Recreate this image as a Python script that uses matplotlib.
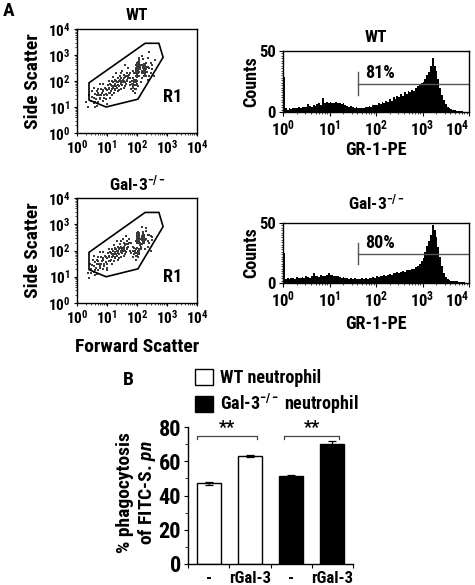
import matplotlib
matplotlib.use('Agg')
import matplotlib.pyplot as plt
import numpy as np
from matplotlib import font_manager as fm
from matplotlib.ticker import FixedLocator, NullFormatter, LogLocator, MultipleLocator, FuncFormatter


def pick(fams):
    for f in fams:
        try:
            fm.findfont(fm.FontProperties(family=f, weight='bold'), fallback_to_default=False)
            return f
        except Exception:
            pass
    return 'DejaVu Sans'


FONT = pick(['Liberation Sans Narrow', 'Arial Narrow', 'Roboto Condensed', 'Archivo Narrow', 'PT Sans Narrow',
             'Pragati Narrow', 'Arimo', 'Liberation Sans'])
plt.rcParams['font.family'] = [FONT, 'DejaVu Sans']
plt.rcParams['font.weight'] = 'bold'
plt.rcParams['mathtext.fontset'] = 'custom'
plt.rcParams['mathtext.rm'] = FONT + ':bold'
plt.rcParams['mathtext.bf'] = FONT + ':bold'
plt.rcParams['mathtext.it'] = FONT + ':bold:italic'
plt.rcParams['mathtext.default'] = 'rm'

# ---------------- data ----------------
# gate R1 (log10 units)
gate_fsc_log = [0.40, 0.40, 0.97, 2.03, 2.87, 2.73, 2.27]
gate_ssc_log = [1.93, 1.27, 1.00, 1.30, 2.91, 3.45, 3.45]

# WT events (log10 FSC, log10 SSC)
wt_events = [
    (0.45, 1.25), (0.5, 1.4), (0.55, 1.15), (0.6, 1.5), (0.62, 1.3), (0.68, 1.6), (0.7, 1.2), (0.72, 1.45), (0.78, 1.35),
    (0.8, 1.7), (0.82, 1.55), (0.85, 1.25), (0.88, 1.6), (0.9, 1.45), (0.93, 1.75), (0.95, 1.5), (0.98, 1.3), (1.0, 1.65),
    (1.02, 1.85), (1.05, 1.55), (0.5, 1.6), (0.58, 1.75), (0.65, 1.05), (0.75, 1.9), (0.4, 1.45),
    (1.08, 1.7), (1.1, 1.9), (1.12, 1.6), (1.15, 1.8), (1.18, 2.0), (1.2, 1.75), (1.22, 1.55), (1.25, 1.9), (1.28, 2.05),
    (1.3, 1.8), (1.32, 1.95), (1.35, 2.1), (1.38, 1.85), (1.4, 2.0), (1.42, 2.2), (1.45, 1.95), (1.48, 2.1), (1.5, 1.85),
    (1.52, 2.05), (1.55, 2.25), (1.58, 2.0), (1.6, 2.15), (1.62, 1.9), (1.65, 2.3), (1.68, 2.05), (1.7, 2.2), (1.15, 1.45),
    (1.25, 1.65), (1.35, 1.6), (1.45, 1.7), (1.55, 1.75), (1.3, 2.3), (1.5, 2.4), (1.2, 2.15), (1.1, 1.35),
    (1.75, 1.85), (1.8, 1.7), (1.82, 2.0), (1.85, 1.9), (1.88, 1.75), (1.9, 2.05), (1.92, 1.85), (1.95, 1.95), (1.98, 1.7),
    (2.0, 2.0), (1.85, 1.6), (1.93, 1.55), (1.78, 2.1), (2.02, 1.8),
    (1.95, 2.3), (1.97, 2.45), (1.98, 2.6), (2.0, 2.35), (2.0, 2.5), (2.01, 2.7), (2.02, 2.4), (2.03, 2.55), (2.04, 2.3),
    (2.05, 2.65), (2.05, 2.45), (2.06, 2.8), (2.07, 2.5), (2.08, 2.35), (2.09, 2.6), (2.1, 2.45), (1.96, 2.2), (2.0, 2.25),
    (2.03, 2.75), (2.07, 2.9), (1.99, 2.15), (2.06, 2.2), (2.02, 2.62), (2.04, 2.48), (2.08, 2.72),
    (2.18, 2.4), (2.2, 2.55), (2.2, 2.3), (2.22, 2.45), (2.23, 2.65), (2.24, 2.35), (2.25, 2.5), (2.26, 2.6), (2.27, 2.4),
    (2.28, 2.3), (2.29, 2.55), (2.3, 2.45), (2.31, 2.7), (2.32, 2.35), (2.22, 2.2), (2.26, 2.25), (2.24, 2.58), (2.28, 2.5),
    (2.21, 2.62), (2.3, 2.2),
    (2.15, 2.1), (2.4, 2.5), (2.45, 2.3), (2.5, 2.6), (2.35, 2.9), (2.4, 3.1), (2.15, 2.95), (1.85, 2.4), (1.7, 2.5),
    (2.55, 2.2), (2.6, 2.8), (2.12, 1.95), (2.35, 2.05), (1.6, 2.6), (2.2, 2.85), (0.3, 1.2), (0.35, 1.0), (1.0, 1.1),
    (0.55, 1.35), (0.6, 1.2), (0.65, 1.45), (0.7, 1.55), (0.75, 1.3), (0.8, 1.45), (0.85, 1.65), (0.9, 1.35), (0.95, 1.7),
    (1.0, 1.45), (1.05, 1.75), (1.1, 1.55), (1.12, 1.85), (1.17, 1.7), (1.2, 1.95), (1.23, 1.8), (1.27, 1.7), (1.3, 2.0),
    (1.33, 1.75), (1.36, 1.95), (1.4, 1.8), (1.43, 2.05), (1.46, 1.9), (1.5, 2.0), (1.53, 1.95), (1.57, 2.1), (1.6, 1.95),
    (1.63, 2.2), (1.66, 2.0), (1.7, 2.1), (1.73, 2.25), (1.76, 1.95), (1.4, 1.65), (1.6, 1.8), (1.25, 2.0), (1.45, 2.3),
    (0.7, 1.7), (0.6, 1.0), (0.88, 1.9), (1.05, 2.0),
    (1.98, 2.4), (2.0, 2.55), (2.01, 2.45), (2.02, 2.35), (2.03, 2.65), (2.04, 2.4), (2.05, 2.55), (2.06, 2.35),
    (2.07, 2.62), (2.08, 2.45), (2.09, 2.52), (2.0, 2.68), (2.05, 2.75), (1.98, 2.5), (2.02, 2.3), (2.06, 2.58),
    (2.2, 2.5), (2.21, 2.38), (2.22, 2.55), (2.23, 2.42), (2.24, 2.48), (2.25, 2.38), (2.26, 2.52), (2.27, 2.62),
    (2.28, 2.42), (2.29, 2.48), (2.23, 2.3), (2.27, 2.33), (2.25, 2.65), (2.21, 2.5),
    (1.85, 1.8), (1.9, 1.95), (1.95, 1.85), (1.88, 2.1), (1.92, 1.7), (1.97, 2.05), (2.0, 1.9), (1.82, 1.9),
    (2.45, 2.7), (2.5, 2.45), (2.35, 2.55), (2.4, 2.2), (1.75, 2.3), (1.9, 2.3), (2.15, 2.3), (2.12, 2.6),
]

# Gal-3-/- events (log10 FSC, log10 SSC)
ko_events = [
    (0.45, 1.3), (0.5, 1.45), (0.55, 1.2), (0.6, 1.55), (0.63, 1.35), (0.67, 1.65), (0.7, 1.25), (0.74, 1.5), (0.78, 1.4),
    (0.8, 1.75), (0.83, 1.6), (0.86, 1.3), (0.88, 1.65), (0.91, 1.5), (0.94, 1.8), (0.96, 1.55), (0.99, 1.35), (1.0, 1.7),
    (1.03, 1.9), (1.06, 1.6), (0.52, 1.65), (0.57, 1.8), (0.66, 1.1), (0.76, 1.95), (0.42, 1.5), (0.48, 1.15),
    (1.08, 1.75), (1.1, 1.95), (1.13, 1.65), (1.15, 1.85), (1.18, 2.05), (1.2, 1.8), (1.23, 1.6), (1.25, 1.95), (1.28, 2.1),
    (1.3, 1.85), (1.33, 2.0), (1.35, 2.15), (1.38, 1.9), (1.4, 2.05), (1.43, 2.25), (1.45, 2.0), (1.48, 2.15), (1.5, 1.9),
    (1.53, 2.1), (1.55, 2.3), (1.58, 2.05), (1.6, 2.2), (1.63, 1.95), (1.65, 2.35), (1.68, 2.1), (1.7, 2.25), (1.16, 1.5),
    (1.26, 1.7), (1.36, 1.65), (1.46, 1.75), (1.56, 1.8), (1.32, 2.35), (1.52, 2.45), (1.22, 2.2),
    (1.8, 1.9), (1.85, 1.75), (1.88, 2.0), (1.9, 1.85), (1.92, 1.95), (1.95, 1.8), (1.97, 2.05), (2.0, 1.9), (2.02, 1.75),
    (2.05, 2.0), (1.9, 2.1), (1.96, 1.65), (2.08, 1.85), (2.0, 2.1), (1.86, 2.15),
    (1.97, 2.35), (1.99, 2.5), (2.0, 2.6), (2.01, 2.4), (2.02, 2.55), (2.03, 2.45), (2.04, 2.65), (2.05, 2.35), (2.05, 2.5),
    (2.06, 2.6), (2.07, 2.4), (2.08, 2.55), (2.09, 2.45), (2.1, 2.3), (2.0, 2.3), (2.02, 2.62), (2.04, 2.38), (2.06, 2.52),
    (2.08, 2.68), (2.03, 2.58), (2.01, 2.42), (2.05, 2.28), (2.07, 2.62), (2.03, 2.48), (1.99, 2.55),
    (2.17, 2.4), (2.18, 2.55), (2.19, 2.3), (2.2, 2.5), (2.21, 2.65), (2.22, 2.35), (2.23, 2.45), (2.24, 2.6), (2.18, 2.25),
    (2.2, 2.42), (2.22, 2.58), (2.24, 2.3), (2.19, 2.62), (2.21, 2.35), (2.23, 2.5), (2.2, 2.7), (2.17, 2.48), (2.25, 2.4),
    (2.12, 2.15), (2.3, 2.45), (2.35, 2.6), (2.4, 2.3), (2.45, 2.55), (2.3, 2.85), (2.15, 2.9), (1.8, 2.3), (1.72, 2.45),
    (2.5, 2.4), (2.38, 2.15), (2.12, 2.05), (2.28, 2.05), (0.35, 1.15), (0.4, 0.95), (1.0, 1.25), (2.45, 2.0), (1.62, 2.55),
    (0.55, 1.4), (0.6, 1.25), (0.65, 1.5), (0.7, 1.6), (0.75, 1.35), (0.8, 1.5), (0.85, 1.7), (0.9, 1.4), (0.95, 1.75),
    (1.0, 1.5), (1.05, 1.8), (1.1, 1.6), (1.12, 1.9), (1.17, 1.75), (1.2, 2.0), (1.23, 1.85), (1.27, 1.75), (1.3, 2.05),
    (1.33, 1.8), (1.36, 2.0), (1.4, 1.85), (1.43, 2.1), (1.46, 1.95), (1.5, 2.05), (1.53, 2.0), (1.57, 2.15), (1.6, 2.0),
    (1.63, 2.25), (1.66, 2.05), (1.7, 2.15), (1.73, 2.3), (1.76, 2.0), (1.4, 1.7), (1.6, 1.85), (1.25, 2.05), (1.45, 2.35),
    (0.7, 1.75), (0.6, 1.05), (0.88, 1.95), (1.05, 2.05),
    (2.0, 2.45), (2.01, 2.55), (2.02, 2.35), (2.03, 2.6), (2.04, 2.5), (2.05, 2.4), (2.06, 2.65), (2.07, 2.45), (2.02, 2.5),
    (2.04, 2.62), (2.0, 2.38), (2.06, 2.52), (2.03, 2.42), (2.05, 2.58), (2.01, 2.66), (2.07, 2.35), (2.03, 2.7), (2.05, 2.3),
    (2.18, 2.45), (2.19, 2.6), (2.2, 2.35), (2.21, 2.55), (2.22, 2.4), (2.2, 2.52), (2.19, 2.38), (2.21, 2.65), (2.22, 2.5),
    (2.18, 2.55), (2.23, 2.58), (2.2, 2.42),
    (1.95, 1.9), (2.0, 1.8), (2.02, 2.0), (1.98, 2.05), (2.05, 1.95), (1.92, 2.0), (2.03, 1.85), (2.07, 2.05),
    (2.35, 2.35), (2.4, 2.6), (2.3, 2.75), (1.8, 2.3), (2.1, 2.2), (2.5, 2.5),
]

# GR-1-PE histograms: 100 log-spaced channels between 10^0 and 10^4
wt_counts = [29, 3, 2, 3, 2.5, 3, 3.5, 3, 4, 3.5, 4, 4.5, 4, 6.5, 5, 4.5, 5.5, 5, 6.5, 7,
             6, 11.5, 7, 8, 7, 8, 7.5, 7, 8.5, 7.5, 7, 6.5, 7, 5.5, 5, 4.5, 5, 4, 3.5, 4,
             3, 3.5, 3, 3.5, 4, 4, 5, 4.5, 5.5, 6, 5.5, 7, 6.5, 8, 7.5, 9, 8.5, 11, 9, 12,
             10.5, 13, 12, 14.5, 13, 16, 15, 17, 16.5, 18, 17.5, 20, 21, 22, 23.5, 25, 27, 30, 33, 38,
             44, 38, 34, 27, 20, 14, 10, 6.5, 4.5, 3.5, 2.5, 2, 1.5, 1.2, 1, 0.8, 0.5, 0.4, 0.3, 0.3]
ko_counts = [25, 3.5, 4, 3, 4.5, 4, 3.5, 5, 4, 4.5, 5, 4, 5.5, 5, 4.5, 6, 8, 5.5, 6, 5,
             6.5, 6, 5.5, 7, 8, 7, 6.5, 6, 5.5, 6, 5, 4.5, 5, 4, 4.5, 3.5, 4, 3.5, 4, 3,
             3.5, 3, 4, 3.5, 4, 3.5, 4.5, 4, 5, 4.5, 5.5, 5, 6, 5.5, 6.5, 6, 7, 7.5, 7, 8.5,
             8, 9, 8.5, 9.5, 10, 9.5, 10.5, 11, 10.5, 12, 11.5, 13, 14, 15.5, 18, 21, 26, 31, 35, 40,
             48, 44, 38, 30, 22, 14, 8, 5, 3.5, 2.5, 2, 2, 1.5, 1.5, 1.2, 1, 0.8, 0.5, 0.3, 0.3]
marker_start = 42          # GR-1-PE gate start
wt_pct, ko_pct = '81%', '80%'

# phagocytosis bar chart
bar_labels = ['-', 'rGal-3', '-', 'rGal-3']
bar_values = [47.1, 63.1, 51.4, 69.9]
bar_errors = [0.8, 0.4, 0.4, 1.8]
bar_colors = ['white', 'white', 'black', 'black']
legend_labels = ['WT neutrophil', 'Gal-3$^{-/-}$ neutrophil']

# ---------------- figure ----------------
W, H = 475, 585
fig = plt.figure(figsize=(W / 100, H / 100), dpi=100)


def fx(px):
    return px / W


def fy(py):
    return 1 - py / H


def log_fmt(v, pos):
    return r'$10^{%d}$' % int(round(np.log10(v)))


def scatter_panel(rect, events, title, title_y, r1_y):
    ax = fig.add_axes(rect)
    ev = np.array(events)
    ax.scatter(10 ** ev[:, 0], 10 ** ev[:, 1], s=1.0, c='#3a3a3a', marker='s', linewidths=0)
    ax.fill(10 ** np.array(gate_fsc_log), 10 ** np.array(gate_ssc_log), fill=False, edgecolor='black', lw=1.2)
    ax.set_xscale('log')
    ax.set_yscale('log')
    ax.set_xlim(1, 1e4)
    ax.set_ylim(1, 1e4)
    for axis in (ax.xaxis, ax.yaxis):
        axis.set_major_locator(FixedLocator([1, 10, 100, 1000, 10000]))
        axis.set_major_formatter(FuncFormatter(log_fmt))
        axis.set_minor_locator(LogLocator(base=10, subs=np.arange(2, 10), numticks=20))
        axis.set_minor_formatter(NullFormatter())
    ax.tick_params(which='major', length=2.5, width=0.8, labelsize=11, pad=2)
    ax.tick_params(which='minor', length=1.2, width=0.5)
    for s in ax.spines.values():
        s.set_linewidth(1.0)
    ax.text(10 ** 3.2, 10 ** r1_y, 'R1', fontsize=13, fontweight='bold', ha='center', va='center')
    fig.text(fx(137), fy(title_y), title, fontsize=12.5, fontweight='bold', ha='center', va='center')
    return ax


a1 = scatter_panel([fx(77), fy(133), fx(197) - fx(77), (133 - 29) / H], wt_events, 'WT', 15, 1.38)
a2 = scatter_panel([fx(77), fy(303), fx(197) - fx(77), (303 - 198) / H], ko_events, 'Gal-3$^{-/-}$', 183, 1.0)
fig.text(fx(33), fy(81), 'Side Scatter', rotation=90, fontsize=14, fontweight='bold', ha='center', va='center')
fig.text(fx(33), fy(250), 'Side Scatter', rotation=90, fontsize=14, fontweight='bold', ha='center', va='center')
fig.text(fx(137), fy(347), 'Forward Scatter', fontsize=14, fontweight='bold', ha='center', va='center')

edges = 10 ** np.linspace(0, 4, len(wt_counts) + 1)


def hist_panel(rect, counts, title, title_y, xlabel_y, pct, vline, hline):
    ax = fig.add_axes(rect)
    ax.stairs(counts, edges, fill=True, color='black', lw=0)
    ax.set_xscale('log')
    ax.set_xlim(1, 1e4)
    ax.set_ylim(0, 50)
    ax.xaxis.set_major_locator(FixedLocator([1, 10, 100, 1000, 10000]))
    ax.xaxis.set_major_formatter(FuncFormatter(log_fmt))
    ax.xaxis.set_minor_locator(LogLocator(base=10, subs=np.arange(2, 10), numticks=20))
    ax.xaxis.set_minor_formatter(NullFormatter())
    ax.yaxis.set_major_locator(FixedLocator([0, 50]))
    ax.yaxis.set_minor_locator(MultipleLocator(2))
    ax.tick_params(which='major', length=3, width=0.8, labelsize=12, pad=2)
    ax.tick_params(which='minor', length=1.5, width=0.5)
    for s in ax.spines.values():
        s.set_linewidth(1.0)
    # keep the last tick label (10^4) inside the figure
    ax.xaxis.get_majorticklabels()[-1].set_horizontalalignment('right')
    ax.plot([marker_start, marker_start], vline, color='#555555', lw=1.0)
    ax.plot([marker_start, 1e4], [hline, hline], color='#555555', lw=1.0)
    ax.text(10 ** 2.08, hline + 1.5, pct, fontsize=13, fontweight='bold', ha='center', va='bottom')
    cx = rect[0] + rect[2] / 2
    fig.text(cx, fy(title_y), title, fontsize=12.5, fontweight='bold', ha='center', va='center')
    fig.text(cx, fy(xlabel_y), 'GR-1-PE', fontsize=13, fontweight='bold', ha='center', va='center')
    fig.text(fx(251), rect[1] + rect[3] / 2, 'Counts', rotation=90, fontsize=13, fontweight='bold', ha='center', va='center')
    return ax


h1 = hist_panel([fx(283), fy(112), fx(469) - fx(283), (112 - 51) / H], wt_counts, 'WT', 38, 150, wt_pct, [14, 33], 23.2)
h2 = hist_panel([fx(283), fy(283), fx(469) - fx(283), (283 - 223) / H], ko_counts, 'Gal-3$^{-/-}$', 202, 324, ko_pct, [16, 33.5], 24.4)

# ---------------- panel B ----------------
ab = fig.add_axes([fx(188), fy(564), fx(353) - fx(188), (564 - 427) / H])
pos = np.arange(len(bar_values))
bars = ab.bar(pos, bar_values, width=0.58, color=bar_colors, edgecolor='black', lw=1.0,
              yerr=bar_errors, error_kw=dict(ecolor='black', elinewidth=0.9, capsize=3, capthick=0.9))
ab.set_xlim(-0.5, 3.5)
ab.set_ylim(0, 80)
ab.spines['top'].set_visible(False)
ab.spines['right'].set_visible(False)
for s in ('left', 'bottom'):
    ab.spines[s].set_linewidth(1.0)
ab.yaxis.set_major_locator(FixedLocator([0, 20, 40, 60, 80]))
ab.yaxis.set_minor_locator(MultipleLocator(10))
ab.xaxis.set_major_locator(FixedLocator([-0.5, 0.5, 1.5, 2.5, 3.5]))
ab.xaxis.set_major_formatter(NullFormatter())
ab.set_xticks(pos, bar_labels, minor=True)
ab.tick_params(axis='x', which='minor', length=0, labelsize=12, pad=5)
ab.tick_params(axis='x', which='major', length=3, width=0.8)
ab.tick_params(axis='y', which='major', length=3, width=0.8, labelsize=16, pad=2)
ab.tick_params(axis='y', which='minor', length=2, width=0.6)

# significance brackets
for x0, x1 in [(0 - 0.27, 1 + 0.17), (2 - 0.17, 3 + 0.17)]:
    ab.plot([x0, x0, x1, x1], [73.2, 74.7, 74.7, 73.2], color='#444444', lw=0.9, clip_on=False)
    ab.text((x0 + x1) / 2, 74.3, '**', fontsize=13, fontweight='bold', ha='center', va='bottom')

fig.text(fx(137), fy(493), '% phagocytosis\nof FITC-S. $\\it{pn}$', rotation=90, fontsize=14,
         fontweight='bold', ha='center', va='center', multialignment='center', linespacing=1.1)
fig.text(fx(128), fy(380), 'B', fontsize=14, fontweight='bold', ha='center', va='center')
fig.text(fx(9), fy(11), 'A', fontsize=14, fontweight='bold', ha='center', va='center')

leg = ab.legend([bars[0], bars[2]], legend_labels, loc='upper left', bbox_to_anchor=(fx(195), fy(369)),
                bbox_transform=fig.transFigure, frameon=False, fontsize=13, handlelength=1.0, handleheight=1.0,
                handletextpad=0.4, borderpad=0, borderaxespad=0, labelspacing=0.25)

fig.savefig('out.png', dpi=100)
